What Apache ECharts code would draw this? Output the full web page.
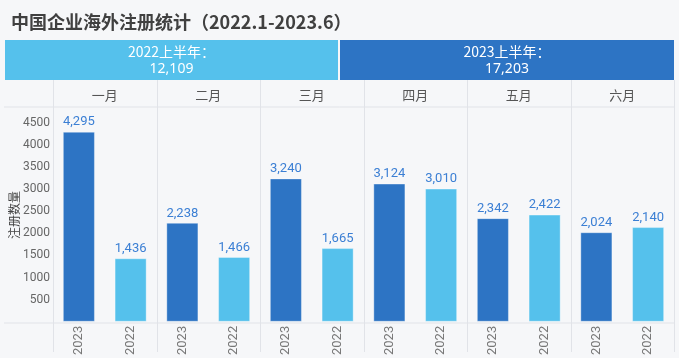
<!DOCTYPE html>
<html><head><meta charset="utf-8">
<script src="https://cdn.jsdelivr.net/npm/echarts@6/dist/echarts.min.js"></script>
<style>html,body{margin:0;padding:0;background:#f6f7f9}#c{width:679px;height:358px}</style>
</head><body><div id="c"></div>
<script>
var title = '中国企业海外注册统计（2022.1-2023.6）';
var months = ['一月','二月','三月','四月','五月','六月'];
var values2023 = [4295, 2238, 3240, 3124, 2342, 2024];
var values2022 = [1436, 1466, 1665, 3010, 2422, 2140];
var halfLabels = ['2022上半年：', '2023上半年：'];
var halfTotals = ['12,109', '17,203'];
var yTicks = [500, 1000, 1500, 2000, 2500, 3000, 3500, 4000, 4500];

var DARK = '#2d74c4', LIGHT = '#55c1ec', LINE = '#e1e3e8';
var categories = [], barData = [];
months.forEach(function (m, i) {
  categories.push('2023'); barData.push({value: values2023[i], itemStyle: {color: DARK}});
  categories.push('2022'); barData.push({value: values2022[i], itemStyle: {color: LIGHT}});
});

var L = 53, R = 674, T = 107, B = 323;
var colW = (R - L) / months.length;
var graphics = [];
graphics.push({type: 'rect', shape: {x: 5, y: 40, width: 333, height: 40}, style: {fill: LIGHT}});
graphics.push({type: 'rect', shape: {x: 340, y: 40, width: 334, height: 40}, style: {fill: DARK}});
[[171.5, 0], [507, 1]].forEach(function (p) {
  graphics.push({type: 'text', x: p[0], y: 52, style: {text: halfLabels[p[1]], fill: '#fff', font: '14px "Noto Sans CJK SC", sans-serif', textAlign: 'center', textVerticalAlign: 'middle'}});
  graphics.push({type: 'text', x: p[0], y: 69, style: {text: halfTotals[p[1]], fill: '#fff', font: '14px "Noto Sans", sans-serif', textAlign: 'center', textVerticalAlign: 'middle'}});
});
graphics.push({type: 'line', shape: {x1: 4, y1: T, x2: 675, y2: T}, style: {stroke: LINE, lineWidth: 1}});
graphics.push({type: 'line', shape: {x1: 4, y1: B, x2: 675, y2: B}, style: {stroke: LINE, lineWidth: 1}});
for (var k = 0; k <= months.length; k++) {
  var x = Math.round(L + k * colW) + 0.5;
  graphics.push({type: 'line', shape: {x1: x, y1: 80, x2: x, y2: 352}, style: {stroke: LINE, lineWidth: 1}});
}
months.forEach(function (m, i) {
  graphics.push({type: 'text', x: L + (i + 0.5) * colW, y: 95, style: {text: m, fill: '#555', font: '13px "Noto Sans CJK SC", sans-serif', textAlign: 'center', textVerticalAlign: 'middle'}});
});
graphics.push({type: 'text', x: 14, y: 215, rotation: Math.PI / 2, style: {text: '注册数量', fill: '#444', font: '12px "Noto Sans CJK SC", sans-serif', textAlign: 'center', textVerticalAlign: 'middle'}});

var chart = echarts.init(document.getElementById('c'));
chart.setOption({
  backgroundColor: '#f6f7f9',
  animation: false,
  title: {text: title, left: 6, top: 8, textStyle: {fontSize: 18, fontWeight: 'bold', color: '#404040', fontFamily: '"Noto Sans CJK SC", sans-serif'}},
  grid: {left: L, right: 679 - R, top: T, bottom: 358 - B},
  xAxis: {
    type: 'category', data: categories,
    axisLine: {show: false}, axisTick: {show: false},
    axisLabel: {rotate: 90, color: '#777', fontSize: 13, margin: 4, fontFamily: 'Roboto, sans-serif', interval: 0}
  },
  yAxis: {
    type: 'value', min: 0, max: 4854, interval: 500,
    splitLine: {show: false}, axisLine: {show: false}, axisTick: {show: false},
    axisLabel: {color: '#666', fontSize: 12, margin: 3, fontFamily: 'Roboto, sans-serif',
      formatter: function (v) { return yTicks.indexOf(v) >= 0 ? String(v) : ''; }}
  },
  series: [{
    type: 'bar', data: barData, barWidth: '62%',
    itemStyle: {borderColor: 'rgba(255,255,255,0.35)', borderWidth: 1},
    label: {show: true, position: 'top', distance: 3, color: '#3b7fd4', fontSize: 13, fontFamily: 'Roboto, sans-serif',
      formatter: function (p) { return p.value.toLocaleString('en-US'); }}
  }],
  graphic: graphics
});
</script></body></html>
